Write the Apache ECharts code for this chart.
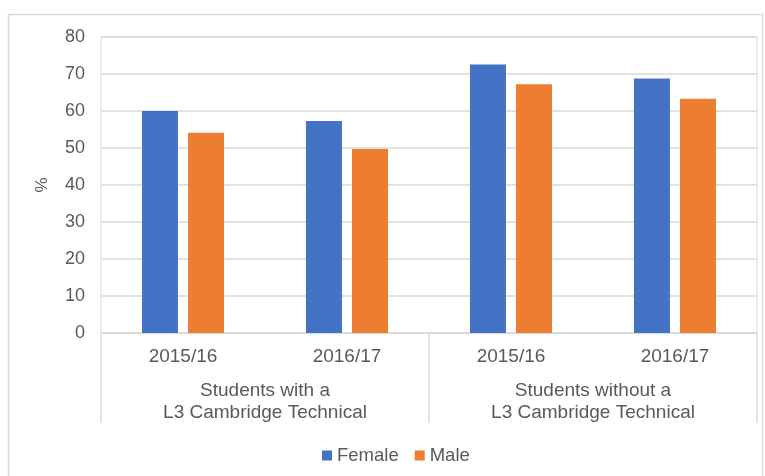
<!DOCTYPE html>
<html>
<head>
<meta charset="utf-8">
<script src="https://cdn.jsdelivr.net/npm/echarts@6/dist/echarts.min.js"></script>
<style>
  html, body { margin: 0; padding: 0; background: #fff; }
  #chart { width: 765px; height: 476px; }
</style>
</head>
<body>
<div id="chart"></div>
<script>
const years = ["2015/16", "2016/17", "2015/16", "2016/17"];
const groups = ["Students with a\nL3 Cambridge Technical", "Students without a\nL3 Cambridge Technical"];
const female = [60.0, 57.3, 72.6, 68.8];
const male = [54.1, 49.7, 67.2, 63.3];
const yTicks = [0, 10, 20, 30, 40, 50, 60, 70, 80];

const textColor = "#595959";
const lineColor = "#d9d9d9";
const font = "Liberation Sans";

const chart = echarts.init(document.getElementById("chart"));

chart.setOption({
  animation: false,
  textStyle: { fontFamily: font },
  graphic: [
    {
      type: "rect",
      shape: { x: 8.5, y: 14.5, width: 754, height: 470 },
      style: { fill: "none", stroke: lineColor, lineWidth: 1.5 },
      silent: true,
    },
  ],
  grid: {
    left: 101,
    right: 8,
    top: 37,
    bottom: 143,
    show: true,
    borderColor: lineColor,
    borderWidth: 1,
  },
  legend: {
    top: 441,
    left: 317,
    itemWidth: 10,
    itemHeight: 10,
    itemGap: 16,
    icon: "rect",
    textStyle: { color: textColor, fontSize: 18.5, fontFamily: font },
    data: ["Female", "Male"],
  },
  xAxis: [
    {
      type: "category",
      data: years,
      axisLine: { lineStyle: { color: lineColor, width: 1 } },
      axisTick: { show: false },
      axisLabel: { color: textColor, fontSize: 19, margin: 14 },
    },
    {
      type: "category",
      data: groups,
      position: "bottom",
      axisLine: { show: false },
      axisTick: {
        show: true,
        length: 90,
        lineStyle: { color: lineColor, width: 1.5 },
      },
      axisLabel: {
        color: textColor,
        fontSize: 19,
        lineHeight: 22,
        margin: 47,
      },
    },
  ],
  yAxis: {
    type: "value",
    min: yTicks[0],
    max: yTicks[yTicks.length - 1],
    interval: 10,
    name: "%",
    nameLocation: "middle",
    nameGap: 50,
    nameTextStyle: { color: textColor, fontSize: 17 },
    axisLine: { show: false },
    axisTick: { show: false },
    axisLabel: { color: textColor, fontSize: 18, margin: 16 },
    splitLine: { lineStyle: { color: lineColor, width: 1.5 } },
  },
  series: [
    {
      name: "Female",
      type: "bar",
      xAxisIndex: 0,
      data: female,
      barWidth: 36,
      barGap: "28%",
      itemStyle: { color: "#4472C4" },
    },
    {
      name: "Male",
      type: "bar",
      xAxisIndex: 0,
      data: male,
      barWidth: 36,
      barGap: "28%",
      itemStyle: { color: "#ED7D31" },
    },
  ],
});
</script>
</body>
</html>
